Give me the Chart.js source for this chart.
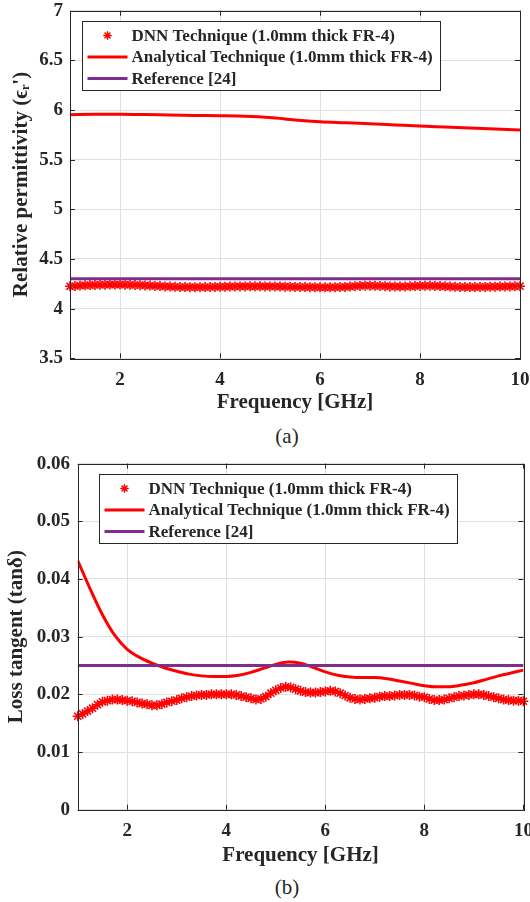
<!DOCTYPE html>
<html>
<head>
<meta charset="utf-8">
<script src="https://cdn.jsdelivr.net/npm/chart.js@4/dist/chart.umd.min.js"></script>
<style>
  body { margin: 0; background: #fff; width: 530px; height: 902px; position: relative; overflow: hidden; font-family: 'Liberation Serif', serif; }
  .wrap { position: absolute; left: 0; width: 530px; height: 420px; }
  .cap { position: absolute; left: 287px; transform: translateX(-50%); font-size: 21px; color: #262626; }
</style>
</head>
<body>
<div class="wrap" style="top:0"><canvas id="permChart" width="530" height="420"></canvas></div>
<div class="cap" style="top:424px">(a)</div>
<div class="wrap" style="top:450px"><canvas id="lossChart" width="530" height="420"></canvas></div>
<div class="cap" style="top:875px">(b)</div>
<script>
// labels
const dnnLabel = 'DNN Technique (1.0mm thick FR-4)';
const anaLabel = 'Analytical Technique (1.0mm thick FR-4)';
const refLabel = 'Reference [24]';

// ticks
const freqTicks = [2, 4, 6, 8, 10];
const permTicks = [3.5, 4, 4.5, 5, 5.5, 6, 6.5, 7];
const lossTicks = [0, 0.01, 0.02, 0.03, 0.04, 0.05, 0.06];

// DNN samples (GHz)
const dnnFreq = [1.0, 1.1, 1.2, 1.3, 1.4, 1.5, 1.6, 1.7, 1.8, 1.9,
  2.0, 2.1, 2.2, 2.3, 2.4, 2.5, 2.6, 2.7, 2.8, 2.9,
  3.0, 3.1, 3.2, 3.3, 3.4, 3.5, 3.6, 3.7, 3.8, 3.9,
  4.0, 4.1, 4.2, 4.3, 4.4, 4.5, 4.6, 4.7, 4.8, 4.9,
  5.0, 5.1, 5.2, 5.3, 5.4, 5.5, 5.6, 5.7, 5.8, 5.9,
  6.0, 6.1, 6.2, 6.3, 6.4, 6.5, 6.6, 6.7, 6.8, 6.9,
  7.0, 7.1, 7.2, 7.3, 7.4, 7.5, 7.6, 7.7, 7.8, 7.9,
  8.0, 8.1, 8.2, 8.3, 8.4, 8.5, 8.6, 8.7, 8.8, 8.9,
  9.0, 9.1, 9.2, 9.3, 9.4, 9.5, 9.6, 9.7, 9.8, 9.9, 10.0];

const dnnPerm = [4.225, 4.228, 4.232, 4.235, 4.237, 4.239, 4.240, 4.241, 4.242, 4.242,
  4.242, 4.241, 4.240, 4.238, 4.236, 4.234, 4.232, 4.229, 4.227, 4.224,
  4.222, 4.220, 4.218, 4.217, 4.216, 4.216, 4.216, 4.217, 4.218, 4.219,
  4.220, 4.221, 4.222, 4.223, 4.224, 4.224, 4.225, 4.225, 4.225, 4.224,
  4.224, 4.223, 4.222, 4.221, 4.220, 4.219, 4.218, 4.217, 4.216, 4.216,
  4.215, 4.215, 4.215, 4.216, 4.217, 4.219, 4.222, 4.226, 4.229, 4.231,
  4.231, 4.230, 4.228, 4.226, 4.224, 4.223, 4.222, 4.223, 4.225, 4.227,
  4.229, 4.230, 4.230, 4.229, 4.227, 4.225, 4.222, 4.220, 4.218, 4.217,
  4.217, 4.217, 4.218, 4.219, 4.220, 4.221, 4.222, 4.223, 4.224, 4.225, 4.226];

const dnnLoss = [0.0162, 0.0166, 0.0171, 0.0176, 0.0182, 0.0187, 0.0189, 0.0191, 0.0191, 0.0190,
  0.0189, 0.0188, 0.0186, 0.0184, 0.0183, 0.0181, 0.0181, 0.0183, 0.0186, 0.0188,
  0.0190, 0.0193, 0.0195, 0.0197, 0.0198, 0.0199, 0.0199, 0.0200, 0.0200, 0.0200,
  0.0200, 0.0200, 0.0199, 0.0197, 0.0195, 0.0193, 0.0191, 0.0192, 0.0196, 0.0202,
  0.0207, 0.0211, 0.0213, 0.0212, 0.0209, 0.0206, 0.0204, 0.0203, 0.0203, 0.0204,
  0.0205, 0.0206, 0.0205, 0.0202, 0.0198, 0.0194, 0.0192, 0.0191, 0.0192, 0.0193,
  0.0194, 0.0196, 0.0197, 0.0197, 0.0198, 0.0199, 0.0199, 0.0199, 0.0198, 0.0196,
  0.0195, 0.0192, 0.0190, 0.0190, 0.0191, 0.0193, 0.0195, 0.0197, 0.0198, 0.0199,
  0.0200, 0.0200, 0.0199, 0.0197, 0.0195, 0.0193, 0.0191, 0.0190, 0.0189, 0.0189, 0.0188];

// analytical curves
const anaPermFreq = [1, 1.5, 2, 2.5, 3, 3.5, 4, 4.5, 5, 5.5, 6, 6.5, 7, 7.5, 8, 8.5, 9, 9.5, 10];
const anaPerm = [5.952, 5.957, 5.958, 5.955, 5.950, 5.946, 5.943, 5.938, 5.925, 5.900,
  5.882, 5.872, 5.862, 5.850, 5.838, 5.828, 5.818, 5.808, 5.798];

const anaLossFreq = [1, 1.25, 1.5, 1.75, 2, 2.25, 2.5, 2.75, 3, 3.25, 3.5, 3.75, 4, 4.25, 4.5, 4.75,
  5, 5.25, 5.5, 5.75, 6, 6.25, 6.5, 6.75, 7, 7.25, 7.5, 7.75, 8, 8.25, 8.5, 8.75, 9, 9.25, 9.5, 9.75, 10];
const anaLoss = [0.0432, 0.0383, 0.0338, 0.0302, 0.0278, 0.0264, 0.0254, 0.0246, 0.0240, 0.0235,
  0.0232, 0.0231, 0.0231, 0.0233, 0.0238, 0.0245, 0.0252, 0.0256, 0.0254, 0.0247,
  0.0239, 0.0233, 0.0230, 0.0229, 0.0229, 0.0227, 0.0223, 0.0219, 0.0215, 0.0213,
  0.0213, 0.0216, 0.0220, 0.0226, 0.0232, 0.0237, 0.0242];

// reference values
const refFreq = [1, 10];
const refPerm = [4.30, 4.30];
const refLoss = [0.025, 0.025];

const ink = '#262626';
const gridCol = '#dfdfdf';
const red = '#ff0000';
const purple = '#7e2f8e';
const serif = "'Liberation Serif', 'Times New Roman', serif";

function pts(xs, ys) {
  return xs.map((x, i) => ({ x: x, y: ys[i] }));
}

// box, inward ticks, and a matlab-ish legend
const frame = {
  id: 'frame',
  afterDatasetsDraw(chart, args, opts) {
    const ctx = chart.ctx;
    const a = chart.chartArea;
    const xs = chart.scales.x, ys = chart.scales.y;
    ctx.save();
    ctx.strokeStyle = ink;
    ctx.lineWidth = 1;
    ctx.beginPath();
    xs.ticks.forEach(t => {
      const px = Math.round(xs.getPixelForValue(t.value)) + 0.5;
      ctx.moveTo(px, a.bottom); ctx.lineTo(px, a.bottom - 5);
      ctx.moveTo(px, a.top); ctx.lineTo(px, a.top + 5);
    });
    ys.ticks.forEach(t => {
      const py = Math.round(ys.getPixelForValue(t.value)) + 0.5;
      ctx.moveTo(a.left, py); ctx.lineTo(a.left + 5, py);
      ctx.moveTo(a.right, py); ctx.lineTo(a.right - 5, py);
    });
    ctx.stroke();
    ctx.strokeRect(Math.round(a.left) + 0.5, Math.round(a.top) + 0.5,
      Math.round(a.right - a.left), Math.round(a.bottom - a.top));

    // legend
    ctx.font = 'bold 17px ' + serif;
    const sets = chart.data.datasets;
    const tw = Math.max(...sets.map(d => ctx.measureText(d.label).width));
    const x0 = Math.round(a.left + opts.dx) + 0.5;
    const y0 = Math.round(a.top + opts.dy) + 0.5;
    const w = Math.round(49 + tw + 8), h = 69;
    ctx.fillStyle = '#fff';
    ctx.fillRect(x0, y0, w, h);
    ctx.strokeStyle = ink;
    ctx.strokeRect(x0, y0, w, h);
    sets.forEach((d, i) => {
      const y = y0 + 14 + i * 21.5;
      if (d.showLine === false) {
        Chart.helpers.drawPoint(ctx, { pointStyle: 'star', radius: 4, borderWidth: 1.5 }, x0 + 25, y);
        ctx.strokeStyle = d.borderColor;
        ctx.lineWidth = 1.5;
        ctx.beginPath();
        const r = 4;
        ctx.moveTo(x0 + 25 - r, y); ctx.lineTo(x0 + 25 + r, y);
        ctx.moveTo(x0 + 25, y - r); ctx.lineTo(x0 + 25, y + r);
        ctx.moveTo(x0 + 25 - r * 0.7, y - r * 0.7); ctx.lineTo(x0 + 25 + r * 0.7, y + r * 0.7);
        ctx.moveTo(x0 + 25 - r * 0.7, y + r * 0.7); ctx.lineTo(x0 + 25 + r * 0.7, y - r * 0.7);
        ctx.stroke();
      } else {
        ctx.strokeStyle = d.borderColor;
        ctx.lineWidth = d.borderWidth;
        ctx.beginPath();
        ctx.moveTo(x0 + 5, y); ctx.lineTo(x0 + 45, y);
        ctx.stroke();
      }
      ctx.fillStyle = ink;
      ctx.textBaseline = 'middle';
      ctx.textAlign = 'left';
      ctx.fillText(d.label, x0 + 49, y + 1);
    });
    ctx.restore();
  }
};

function makeChart(id, cfg) {
  const tickFont = { family: serif, size: 19, weight: 'bold' };
  const titleFont = { family: serif, size: 21, weight: 'bold' };
  return new Chart(document.getElementById(id), {
    type: 'line',
    data: {
      datasets: [
        {
          label: dnnLabel,
          data: pts(dnnFreq, cfg.dnn),
          showLine: false,
          pointStyle: 'star',
          pointRadius: 5,
          borderColor: red,
          backgroundColor: red,
          pointBorderWidth: 1.6,
          clip: false,
          order: 3
        },
        {
          label: anaLabel,
          data: pts(cfg.anaFreq, cfg.ana),
          borderColor: red,
          borderWidth: 3,
          pointRadius: 0,
          cubicInterpolationMode: 'monotone',
          order: 2
        },
        {
          label: refLabel,
          data: pts(refFreq, cfg.ref),
          borderColor: purple,
          borderWidth: 3,
          pointRadius: 0,
          order: 1
        }
      ]
    },
    options: {
      responsive: false,
      animation: false,
      events: [],
      layout: { padding: cfg.pad },
      plugins: {
        legend: { display: false },
        tooltip: { enabled: false },
        frame: { dx: cfg.legDx, dy: 10 }
      },
      scales: {
        x: {
          type: 'linear',
          min: 1,
          max: 10,
          afterBuildTicks: s => { s.ticks = freqTicks.map(v => ({ value: v })); },
          afterFit: s => { s.height = cfg.xHeight; s.paddingLeft = 0; s.paddingRight = 0; },
          grid: { color: gridCol, drawTicks: false },
          border: { display: false },
          ticks: { font: tickFont, color: ink, padding: cfg.xTickPad, maxRotation: 0, autoSkip: false },
          title: { display: true, text: 'Frequency [GHz]', font: titleFont, color: ink, padding: { top: 0, bottom: cfg.xTitlePad } }
        },
        y: {
          min: cfg.yMin,
          max: cfg.yMax,
          afterBuildTicks: s => { s.ticks = cfg.yTicks.map(v => ({ value: v })); },
          afterFit: s => { s.width = cfg.yWidth; s.paddingTop = 0; s.paddingBottom = 0; },
          grid: { color: gridCol, drawTicks: false },
          border: { display: false },
          ticks: { font: tickFont, color: ink, padding: cfg.yTickPad, autoSkip: false, callback: cfg.fmt },
          title: { display: true, text: cfg.yTitle, font: titleFont, color: ink, padding: { top: cfg.yTitlePad, bottom: 0 } }
        }
      }
    },
    plugins: [frame]
  });
}

makeChart('permChart', {
  dnn: dnnPerm, anaFreq: anaPermFreq, ana: anaPerm, ref: refPerm,
  yMin: 3.5, yMax: 7, yTicks: permTicks,
  fmt: v => String(v),
  yTitle: "Relative permittivity (\u03f5\u1d63')",
  pad: { top: 10.7, right: 10, left: 0, bottom: 0 },
  xHeight: 61.7, yWidth: 70,
  xTickPad: 10, xTitlePad: 4.4, yTickPad: 7, yTitlePad: 9.4,
  legDx: 12
});

makeChart('lossChart', {
  dnn: dnnLoss, anaFreq: anaLossFreq, ana: anaLoss, ref: refLoss,
  yMin: 0, yMax: 0.06, yTicks: lossTicks,
  fmt: v => (v === 0 ? '0' : v.toFixed(2)),
  yTitle: 'Loss tangent (tan\u03b4)',
  pad: { top: 13.6, right: 2.3, left: 0, bottom: 0 },
  xHeight: 60.3, yWidth: 77.7,
  xTickPad: 10, xTitlePad: 1.4, yTickPad: 7.7, yTitlePad: 4.4,
  legDx: 21
});
</script>
</body>
</html>
